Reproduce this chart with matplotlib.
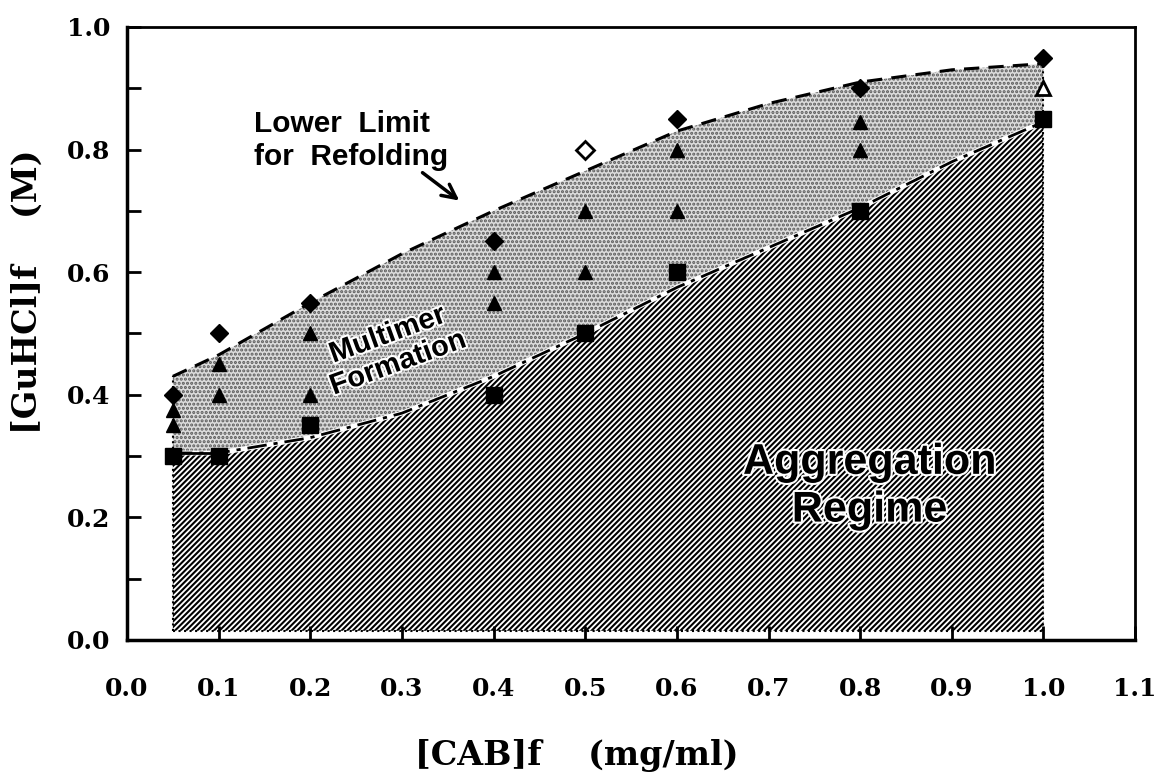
import matplotlib
matplotlib.use("Agg")
import matplotlib.pyplot as plt
import matplotlib.patheffects as pe

# measured points (CAB mg/ml vs GuHCl M)
sq_x = [0.05, 0.1, 0.2, 0.4, 0.5, 0.6, 0.8, 1.0]
sq_y = [0.30, 0.30, 0.35, 0.40, 0.50, 0.60, 0.70, 0.85]

tri_x = [0.05, 0.05, 0.1, 0.1, 0.2, 0.2, 0.4, 0.4, 0.5, 0.5, 0.6, 0.6, 0.8, 0.8]
tri_y = [0.375, 0.35, 0.45, 0.40, 0.50, 0.40, 0.60, 0.55, 0.70, 0.60, 0.80, 0.70, 0.845, 0.80]
tri_open_x = [1.0]
tri_open_y = [0.90]

dia_x = [0.05, 0.1, 0.2, 0.4, 0.6, 0.8, 1.0]
dia_y = [0.40, 0.50, 0.55, 0.65, 0.85, 0.90, 0.95]
dia_open_x = [0.5]
dia_open_y = [0.80]

# region boundaries
bnd_x = [0.05, 0.1, 0.2, 0.3, 0.4, 0.5, 0.6, 0.7, 0.8, 0.9, 1.0]
upper_y = [0.43, 0.465, 0.55, 0.63, 0.70, 0.765, 0.83, 0.875, 0.91, 0.93, 0.94]
lower_y = [0.305, 0.305, 0.33, 0.37, 0.43, 0.50, 0.575, 0.64, 0.705, 0.78, 0.845]
floor_y = 0.015

xticks = [0.0, 0.1, 0.2, 0.3, 0.4, 0.5, 0.6, 0.7, 0.8, 0.9, 1.0, 1.1]
yticks = [0.0, 0.2, 0.4, 0.6, 0.8, 1.0]

plt.rcParams['hatch.linewidth'] = 1.5
serif = 'DejaVu Serif'
sans = 'Liberation Sans'

fig = plt.figure(figsize=(11.56, 7.8), dpi=100)
ax = fig.add_axes([0.1099, 0.1795, 0.872, 0.786])

# aggregation regime (hatched)
ax.fill_between(bnd_x, floor_y, lower_y, facecolor='white', edgecolor='black',
                hatch='//////', linewidth=0, zorder=1)
# multimer formation (stipple)
ax.fill_between(bnd_x, lower_y, upper_y, facecolor='#dcdcdc', edgecolor='#5a5a5a',
                hatch='....', linewidth=0, zorder=1)
# dotted borders of the shaded areas
ax.plot([bnd_x[0], bnd_x[0]], [floor_y, upper_y[0]], color='black', ls=':', lw=1.5, zorder=2)
ax.plot([bnd_x[-1], bnd_x[-1]], [floor_y, upper_y[-1]], color='black', ls=':', lw=1.5, zorder=2)
ax.plot([bnd_x[0], bnd_x[-1]], [floor_y, floor_y], color='black', ls=':', lw=1.5, zorder=2)

# boundary lines
ax.plot(bnd_x, upper_y, color='black', lw=2.2, ls=(0, (5, 3)), zorder=3)
ax.plot(bnd_x, lower_y, color='white', lw=3.5, zorder=3)
ax.plot(bnd_x, lower_y, color='black', lw=2.0, ls=(0, (7, 2.5, 1.5, 2.5)), zorder=3)
ax.plot(bnd_x[:2], lower_y[:2], color='black', lw=2.0, zorder=3)

# markers
ax.plot(sq_x, sq_y, ls='none', marker='s', ms=11, color='black', zorder=4)
ax.plot(tri_x, tri_y, ls='none', marker='^', ms=10, color='black', zorder=4)
ax.plot(tri_open_x, tri_open_y, ls='none', marker='^', ms=10, mfc='white',
        mec='black', mew=2, zorder=4)
ax.plot(dia_x, dia_y, ls='none', marker='D', ms=9, color='black', zorder=4)
ax.plot(dia_open_x, dia_open_y, ls='none', marker='D', ms=9, mfc='white',
        mec='black', mew=2, zorder=4)

halo = [pe.withStroke(linewidth=3, foreground='white')]
ax.text(0.138, 0.815, 'Lower  Limit\nfor  Refolding', fontsize=21.5, fontweight='bold',
        family=sans, ha='left', va='center', linespacing=1.2, zorder=5)
ax.annotate('', xy=(0.365, 0.714), xytext=(0.32, 0.765),
            arrowprops=dict(arrowstyle='->', lw=2.5, color='black', mutation_scale=25),
            zorder=5)
ax.text(0.29, 0.475, 'Multimer\nFormation', fontsize=21, fontweight='bold', family=sans,
        ha='center', va='center', rotation=20, linespacing=1.1, path_effects=halo, zorder=5)
ax.text(0.81, 0.25, 'Aggregation\nRegime', fontsize=31, fontweight='bold', family=sans,
        ha='center', va='center', linespacing=1.25, path_effects=halo, zorder=5)

ax.set_xlim(0, 1.1)
ax.set_ylim(0, 1.0)
ax.set_xticks(xticks)
ax.set_xticklabels(['%.1f' % v for v in xticks])
ax.set_yticks(yticks)
ax.set_yticklabels(['%.1f' % v for v in yticks])
ax.set_yticks([0.1, 0.3, 0.5, 0.7, 0.9], minor=True)
ax.tick_params(axis='both', which='both', direction='in', length=10, width=2)
ax.tick_params(axis='x', pad=27)
ax.tick_params(axis='y', pad=12)
for lab in ax.get_xticklabels() + ax.get_yticklabels():
    lab.set_fontfamily(serif)
    lab.set_fontweight('bold')
    lab.set_fontsize(18)
for side in ['left', 'bottom']:
    ax.spines[side].set_linewidth(2.5)
for side in ['top', 'right']:
    ax.spines[side].set_linewidth(2.0)

fig.text(577 / 1156, 1 - 755 / 780, '[CAB]f    (mg/ml)', fontsize=24, fontweight='bold',
         family=serif, ha='center', va='center')
fig.text(27 / 1156, 1 - 292 / 780, '[GuHCl]f    (M)', fontsize=24, fontweight='bold',
         family=serif, ha='center', va='center', rotation=90)

fig.savefig('out.png', dpi=100)
